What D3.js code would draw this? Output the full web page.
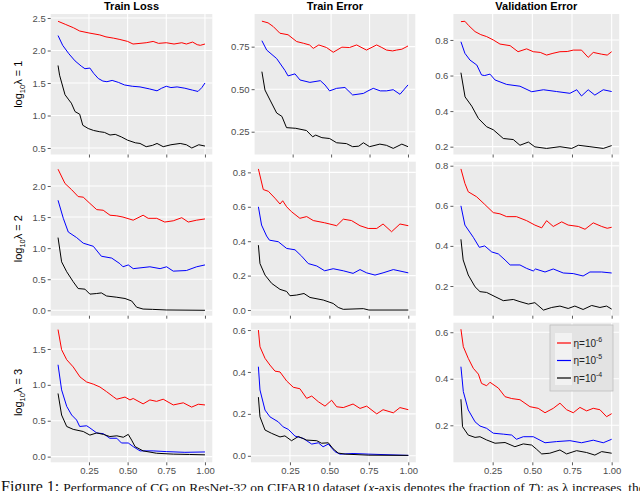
<!DOCTYPE html>
<html>
<head>
<meta charset="utf-8">
<script src="https://cdn.jsdelivr.net/npm/d3@7"></script>
<style>
  body { margin: 0; background: #fff; }
  svg { display: block; font-family: "Liberation Sans", Arial, sans-serif; }
</style>
</head>
<body>
<svg id="chart" width="640" height="491"></svg>
<script>
// ---- data: [fraction of T, value] ----
const colTitles = ["Train Loss", "Train Error", "Validation Error"];
const rowLambdas = ["1", "2", "3"];
const etaLabels = ["-6", "-5", "-4"];
const xTicks = [0.25, 0.5, 0.75, 1.0];

// log10 lambda = 1
const loss1Red = [[0.05,2.45],[0.1,2.40],[0.15,2.35],[0.19,2.30],[0.25,2.27],[0.32,2.24],[0.36,2.21],[0.41,2.19],[0.45,2.17],[0.5,2.14],[0.535,2.10],[0.58,2.11],[0.62,2.12],[0.665,2.14],[0.70,2.11],[0.75,2.12],[0.8,2.10],[0.85,2.12],[0.88,2.10],[0.92,2.13],[0.95,2.09],[0.97,2.08],[1.0,2.10]];
const loss1Blue = [[0.05,2.23],[0.08,2.08],[0.12,1.95],[0.16,1.84],[0.2,1.76],[0.224,1.72],[0.256,1.73],[0.28,1.65],[0.31,1.57],[0.34,1.53],[0.366,1.52],[0.40,1.54],[0.44,1.51],[0.48,1.47],[0.53,1.45],[0.58,1.44],[0.64,1.41],[0.69,1.38],[0.72,1.42],[0.75,1.45],[0.78,1.43],[0.82,1.44],[0.87,1.42],[0.92,1.39],[0.955,1.37],[0.98,1.43],[1.0,1.50]];
const loss1Black = [[0.05,1.77],[0.06,1.62],[0.074,1.50],[0.095,1.32],[0.12,1.24],[0.136,1.19],[0.16,1.06],[0.19,1.02],[0.21,0.85],[0.245,0.80],[0.28,0.77],[0.32,0.75],[0.35,0.74],[0.386,0.70],[0.42,0.71],[0.46,0.67],[0.50,0.62],[0.55,0.58],[0.58,0.57],[0.62,0.52],[0.66,0.54],[0.69,0.57],[0.73,0.52],[0.78,0.55],[0.84,0.57],[0.88,0.55],[0.915,0.50],[0.96,0.55],[1.0,0.53]];
const err1Red = [[0.05,0.90],[0.09,0.89],[0.124,0.868],[0.167,0.829],[0.22,0.82],[0.276,0.78],[0.32,0.77],[0.36,0.76],[0.384,0.74],[0.42,0.76],[0.47,0.745],[0.514,0.717],[0.57,0.747],[0.62,0.745],[0.666,0.76],[0.73,0.73],[0.796,0.76],[0.83,0.745],[0.86,0.73],[0.9,0.725],[0.926,0.73],[0.96,0.735],[1.0,0.754]];
const err1Blue = [[0.05,0.785],[0.081,0.73],[0.146,0.68],[0.2,0.61],[0.22,0.578],[0.265,0.59],[0.298,0.554],[0.362,0.54],[0.43,0.55],[0.46,0.525],[0.49,0.49],[0.536,0.505],[0.59,0.51],[0.64,0.466],[0.71,0.475],[0.74,0.49],[0.774,0.505],[0.82,0.49],[0.86,0.49],[0.904,0.497],[0.948,0.47],[1.0,0.525]];
const err1Black = [[0.05,0.603],[0.07,0.495],[0.103,0.436],[0.146,0.36],[0.18,0.34],[0.21,0.274],[0.27,0.27],[0.34,0.257],[0.38,0.22],[0.40,0.23],[0.44,0.215],[0.49,0.21],[0.536,0.185],[0.6,0.18],[0.64,0.162],[0.68,0.165],[0.71,0.185],[0.75,0.162],[0.817,0.177],[0.86,0.17],[0.904,0.152],[0.96,0.177],[1.0,0.162]];
const val1Red = [[0.05,0.903],[0.075,0.905],[0.1,0.88],[0.139,0.847],[0.175,0.83],[0.212,0.819],[0.254,0.80],[0.296,0.777],[0.36,0.768],[0.41,0.734],[0.464,0.75],[0.506,0.734],[0.55,0.73],[0.59,0.715],[0.63,0.725],[0.674,0.734],[0.72,0.735],[0.758,0.743],[0.81,0.743],[0.852,0.702],[0.884,0.73],[0.937,0.72],[0.972,0.715],[1.0,0.734]];
const val1Blue = [[0.05,0.79],[0.075,0.725],[0.107,0.687],[0.15,0.659],[0.18,0.603],[0.2,0.6],[0.233,0.608],[0.265,0.575],[0.338,0.55],[0.422,0.54],[0.496,0.509],[0.57,0.52],[0.653,0.51],[0.737,0.50],[0.78,0.52],[0.81,0.485],[0.852,0.52],[0.894,0.49],[0.947,0.52],[1.0,0.51]];
const val1Black = [[0.05,0.616],[0.076,0.48],[0.118,0.428],[0.16,0.359],[0.212,0.312],[0.254,0.295],[0.317,0.246],[0.38,0.24],[0.422,0.208],[0.475,0.226],[0.516,0.199],[0.59,0.19],[0.674,0.20],[0.748,0.19],[0.79,0.208],[0.863,0.2],[0.947,0.19],[1.0,0.206]];

// log10 lambda = 2
const loss2Red = [[0.05,2.27],[0.095,2.04],[0.138,1.94],[0.18,1.83],[0.213,1.82],[0.256,1.72],[0.3,1.62],[0.342,1.61],[0.386,1.53],[0.43,1.52],[0.47,1.50],[0.536,1.45],[0.6,1.53],[0.633,1.48],[0.688,1.48],[0.74,1.42],[0.795,1.44],[0.85,1.49],[0.892,1.42],[0.946,1.45],[1.0,1.47]];
const loss2Blue = [[0.05,1.77],[0.084,1.48],[0.116,1.26],[0.17,1.17],[0.213,1.08],[0.278,1.03],[0.33,0.87],[0.397,0.84],[0.45,0.75],[0.47,0.70],[0.504,0.73],[0.536,0.67],[0.644,0.70],[0.71,0.67],[0.752,0.70],[0.795,0.63],[0.88,0.64],[0.946,0.70],[1.0,0.73]];
const loss2Black = [[0.05,1.17],[0.073,0.78],[0.106,0.62],[0.148,0.46],[0.18,0.35],[0.224,0.34],[0.256,0.26],[0.3,0.27],[0.33,0.28],[0.364,0.23],[0.43,0.21],[0.483,0.19],[0.526,0.15],[0.558,0.05],[0.6,0.02],[0.66,0.015],[0.75,0.005],[1.0,0.0]];
const err2Red = [[0.05,0.82],[0.081,0.70],[0.113,0.69],[0.155,0.65],[0.187,0.616],[0.204,0.635],[0.229,0.60],[0.26,0.571],[0.313,0.533],[0.356,0.543],[0.398,0.52],[0.47,0.507],[0.546,0.49],[0.588,0.528],[0.64,0.52],[0.694,0.49],[0.746,0.474],[0.8,0.474],[0.84,0.50],[0.894,0.455],[0.947,0.50],[1.0,0.49]];
const err2Blue = [[0.05,0.60],[0.07,0.494],[0.102,0.43],[0.12,0.406],[0.176,0.397],[0.229,0.358],[0.282,0.35],[0.324,0.313],[0.366,0.27],[0.42,0.256],[0.47,0.228],[0.524,0.24],[0.588,0.228],[0.65,0.213],[0.694,0.235],[0.736,0.216],[0.789,0.203],[0.84,0.216],[0.905,0.235],[1.0,0.216]];
const err2Black = [[0.05,0.377],[0.06,0.27],[0.092,0.203],[0.134,0.155],[0.187,0.12],[0.229,0.108],[0.25,0.083],[0.292,0.087],[0.339,0.096],[0.377,0.073],[0.461,0.058],[0.524,0.038],[0.556,0.015],[0.588,0.004],[0.715,0.008],[0.75,0.0],[1.0,0.0]];
const val2Red = [[0.05,0.784],[0.075,0.712],[0.096,0.67],[0.149,0.645],[0.2,0.607],[0.254,0.566],[0.296,0.56],[0.338,0.546],[0.4,0.546],[0.464,0.526],[0.516,0.504],[0.559,0.49],[0.59,0.526],[0.632,0.497],[0.685,0.52],[0.726,0.504],[0.79,0.497],[0.832,0.483],[0.884,0.515],[0.937,0.497],[0.972,0.488],[1.0,0.493]];
const val2Blue = [[0.05,0.60],[0.075,0.504],[0.128,0.443],[0.166,0.393],[0.2,0.40],[0.244,0.37],[0.286,0.36],[0.328,0.33],[0.36,0.305],[0.422,0.305],[0.464,0.288],[0.506,0.275],[0.52,0.285],[0.58,0.27],[0.632,0.285],[0.695,0.265],[0.758,0.262],[0.82,0.25],[0.863,0.27],[0.937,0.27],[1.0,0.265]];
const val2Black = [[0.05,0.433],[0.064,0.33],[0.096,0.255],[0.139,0.196],[0.17,0.172],[0.212,0.168],[0.265,0.147],[0.317,0.127],[0.38,0.133],[0.422,0.122],[0.475,0.11],[0.516,0.117],[0.57,0.08],[0.622,0.093],[0.674,0.10],[0.726,0.088],[0.768,0.10],[0.82,0.083],[0.874,0.103],[0.926,0.093],[0.968,0.10],[1.0,0.085]];

// log10 lambda = 3
const loss3Red = [[0.05,1.77],[0.073,1.49],[0.106,1.35],[0.148,1.25],[0.192,1.11],[0.235,1.04],[0.278,1.01],[0.321,0.97],[0.364,0.905],[0.407,0.835],[0.43,0.80],[0.483,0.83],[0.515,0.79],[0.536,0.81],[0.6,0.735],[0.644,0.79],[0.687,0.77],[0.73,0.80],[0.795,0.72],[0.86,0.75],[0.914,0.69],[0.957,0.73],[1.0,0.72]];
const loss3Blue = [[0.05,1.28],[0.073,0.93],[0.106,0.70],[0.138,0.58],[0.17,0.51],[0.19,0.42],[0.235,0.43],[0.256,0.40],[0.3,0.33],[0.343,0.32],[0.385,0.256],[0.43,0.256],[0.46,0.19],[0.504,0.19],[0.536,0.14],[0.58,0.08],[0.665,0.08],[0.75,0.07],[0.87,0.06],[1.0,0.065]];
const loss3Black = [[0.05,0.88],[0.073,0.58],[0.106,0.42],[0.148,0.38],[0.213,0.35],[0.256,0.30],[0.3,0.33],[0.343,0.31],[0.385,0.28],[0.43,0.29],[0.472,0.27],[0.504,0.31],[0.526,0.23],[0.548,0.14],[0.6,0.08],[0.687,0.047],[0.795,0.035],[0.9,0.03],[1.0,0.025]];
const err3Red = [[0.05,0.60],[0.06,0.52],[0.092,0.465],[0.123,0.433],[0.155,0.404],[0.187,0.40],[0.229,0.357],[0.271,0.327],[0.313,0.32],[0.356,0.274],[0.388,0.285],[0.43,0.258],[0.472,0.237],[0.514,0.265],[0.546,0.234],[0.588,0.23],[0.65,0.247],[0.694,0.226],[0.736,0.237],[0.8,0.20],[0.84,0.22],[0.905,0.205],[0.947,0.23],[1.0,0.22]];
const err3Blue = [[0.05,0.425],[0.06,0.314],[0.092,0.218],[0.123,0.186],[0.176,0.162],[0.207,0.138],[0.24,0.126],[0.282,0.094],[0.334,0.083],[0.388,0.056],[0.43,0.062],[0.46,0.043],[0.493,0.056],[0.535,0.02],[0.567,0.008],[0.65,0.011],[0.75,0.008],[1.0,0.002]];
const err3Black = [[0.05,0.28],[0.06,0.186],[0.092,0.123],[0.134,0.107],[0.187,0.09],[0.218,0.095],[0.26,0.072],[0.303,0.092],[0.356,0.075],[0.42,0.072],[0.45,0.06],[0.493,0.062],[0.524,0.033],[0.556,0.013],[0.6,0.008],[0.75,0.003],[1.0,0.002]];
const val3Red = [[0.05,0.613],[0.065,0.538],[0.096,0.488],[0.128,0.445],[0.16,0.42],[0.18,0.38],[0.212,0.37],[0.233,0.385],[0.286,0.36],[0.328,0.323],[0.37,0.315],[0.422,0.31],[0.485,0.28],[0.537,0.273],[0.58,0.254],[0.632,0.273],[0.674,0.295],[0.716,0.267],[0.758,0.254],[0.8,0.277],[0.842,0.262],[0.884,0.273],[0.926,0.267],[0.968,0.237],[1.0,0.25]];
const val3Blue = [[0.05,0.452],[0.065,0.345],[0.096,0.266],[0.139,0.215],[0.17,0.197],[0.212,0.187],[0.254,0.166],[0.317,0.162],[0.37,0.158],[0.4,0.14],[0.443,0.151],[0.506,0.151],[0.58,0.125],[0.653,0.13],[0.737,0.134],[0.81,0.125],[0.884,0.136],[0.947,0.125],[1.0,0.14]];
const val3Black = [[0.05,0.312],[0.06,0.194],[0.096,0.158],[0.139,0.148],[0.17,0.151],[0.212,0.137],[0.265,0.123],[0.328,0.126],[0.39,0.108],[0.443,0.12],[0.496,0.115],[0.527,0.097],[0.559,0.077],[0.61,0.08],[0.674,0.094],[0.716,0.077],[0.779,0.091],[0.842,0.083],[0.894,0.072],[0.937,0.087],[1.0,0.08]];

// y ticks per panel (row-major)
const yTicks = [
  [0.5, 1.0, 1.5, 2.0, 2.5], [0.25, 0.5, 0.75], [0.2, 0.4, 0.6, 0.8],
  [0.0, 0.5, 1.0, 1.5, 2.0], [0.0, 0.2, 0.4, 0.6, 0.8], [0.2, 0.4, 0.6, 0.8],
  [0.0, 0.5, 1.0, 1.5], [0.0, 0.2, 0.4, 0.6], [0.2, 0.4, 0.6]
];
const yDomains = [
  [0.40, 2.562], [0.116, 0.942], [0.156, 0.946],
  [-0.087, 2.391], [-0.033, 0.862], [0.052, 0.820],
  [-0.079, 1.866], [-0.031, 0.635], [0.041, 0.641]
];
const series = [
  [loss1Red, loss1Blue, loss1Black], [err1Red, err1Blue, err1Black], [val1Red, val1Blue, val1Black],
  [loss2Red, loss2Blue, loss2Black], [err2Red, err2Blue, err2Black], [val2Red, val2Blue, val2Black],
  [loss3Red, loss3Blue, loss3Black], [err3Red, err3Blue, err3Black], [val3Red, val3Blue, val3Black]
];

// ---- layout ----
const colors = ["#ff0000", "#0000ff", "#000000"];
const rowY = [[14, 154.5], [161.7, 315.7], [322.7, 462.3]];
const colX = [
  [[50.7, 212.3], [254.6, 415.3], [453.4, 619.2]],
  [[50.7, 212.3], [250.9, 415.8], [453.4, 619.2]],
  [[50.7, 212.3], [250.9, 415.8], [453.4, 619.2]]
];
const tickColor = "#4d4d4d";

const svg = d3.select("#chart");

const drawPanel = (r, c) => {
  const i = r * 3 + c;
  const [x0, x1] = colX[r][c];
  const [y0, y1] = rowY[r];
  const x = d3.scaleLinear().domain([0.0025, 1.0475]).range([x0, x1]);
  const y = d3.scaleLinear().domain(yDomains[i]).range([y1, y0]);
  const g = svg.append("g");

  g.append("rect")
    .attr("x", x0).attr("y", y0)
    .attr("width", x1 - x0).attr("height", y1 - y0)
    .attr("fill", "#ebebeb");

  g.selectAll(".gx").data(xTicks).enter().append("line")
    .attr("x1", (d) => x(d)).attr("x2", (d) => x(d))
    .attr("y1", y0).attr("y2", y1)
    .attr("stroke", "#fff").attr("stroke-width", 1.1);
  g.selectAll(".gy").data(yTicks[i]).enter().append("line")
    .attr("x1", x0).attr("x2", x1)
    .attr("y1", (d) => y(d)).attr("y2", (d) => y(d))
    .attr("stroke", "#fff").attr("stroke-width", 1.1);

  const line = d3.line().x((d) => x(d[0])).y((d) => y(d[1]));
  series[i].forEach((s, k) => {
    g.append("path")
      .datum(s)
      .attr("d", line)
      .attr("fill", "none")
      .attr("stroke", colors[k])
      .attr("stroke-width", 1)
      .attr("stroke-linejoin", "round");
  });

  const fmtY = yTicks[i].some((t) => Math.round(t * 10) !== t * 10) ? d3.format(".2f") : d3.format(".1f");
  const yAxis = d3.axisLeft(y).tickValues(yTicks[i]).tickFormat(fmtY).tickSize(3).tickPadding(2);
  const ya = g.append("g").attr("transform", `translate(${x0},0)`).call(yAxis);

  const xAxis = d3.axisBottom(x).tickValues(xTicks).tickSize(3).tickPadding(2)
    .tickFormat(r === 2 ? d3.format(".2f") : () => "");
  const xa = g.append("g").attr("transform", `translate(0,${y1})`).call(xAxis);

  [ya, xa].forEach((a) => {
    a.select(".domain").remove();
    a.selectAll("line").attr("stroke", "#333").attr("stroke-width", 0.8);
    a.selectAll("text").attr("fill", tickColor).attr("font-size", 9.5)
      .attr("font-family", "'Liberation Sans', Arial, sans-serif");
  });
};

for (let r = 0; r < 3; r++) for (let c = 0; c < 3; c++) drawPanel(r, c);

// column titles
colTitles.forEach((t, c) => {
  const [x0, x1] = colX[0][c];
  svg.append("text")
    .attr("x", (x0 + x1) / 2).attr("y", 9.5)
    .attr("text-anchor", "middle")
    .attr("font-size", 11).attr("font-weight", "bold")
    .text(t);
});

// row labels
rowLambdas.forEach((l, r) => {
  const cy = (rowY[r][0] + rowY[r][1]) / 2;
  const t = svg.append("text")
    .attr("transform", `translate(22,${cy}) rotate(-90)`)
    .attr("text-anchor", "middle")
    .attr("font-size", 11);
  t.append("tspan").text("log");
  t.append("tspan").attr("font-size", 7.5).attr("dy", 3).text("10");
  t.append("tspan").attr("dy", -3).text(`λ = ${l}`);
});

// legend in bottom-right panel
const lg = svg.append("g").attr("transform", "translate(550,325)");
lg.append("rect").attr("width", 63).attr("height", 66)
  .attr("fill", "#e3e3e3").attr("stroke", "#bdbdbd").attr("stroke-width", 0.8);
lg.append("rect").attr("x", 5).attr("y", 8).attr("width", 17).attr("height", 52)
  .attr("fill", "#f2f2f2");
etaLabels.forEach((e, k) => {
  const yy = 18 + k * 17.5;
  lg.append("line").attr("x1", 7).attr("x2", 21).attr("y1", yy).attr("y2", yy)
    .attr("stroke", colors[k]).attr("stroke-width", 1.2);
  const t = lg.append("text").attr("x", 23.5).attr("y", yy + 3.5).attr("font-size", 10).attr("fill", "#222");
  t.append("tspan").text("η=10");
  t.append("tspan").attr("font-size", 7).attr("dy", -5).text(e);
});

// caption (cut at the bottom edge in the original)
const cap = svg.append("text").attr("x", 1).attr("y", 491.5)
  .attr("font-family", "'Liberation Serif', 'Times New Roman', serif").attr("fill", "#111");
cap.append("tspan").attr("font-size", 16).text("Figure 1: ");
cap.append("tspan").attr("font-size", 13.5).text("Performance of CG on ResNet-32 on CIFAR10 dataset (");
cap.append("tspan").attr("font-size", 13.5).attr("font-style", "italic").text("x");
cap.append("tspan").attr("font-size", 13.5).text("-axis denotes the fraction of ");
cap.append("tspan").attr("font-size", 13.5).attr("font-style", "italic").text("T");
cap.append("tspan").attr("font-size", 13.5).text("); as λ increases, the");
</script>
</body>
</html>
